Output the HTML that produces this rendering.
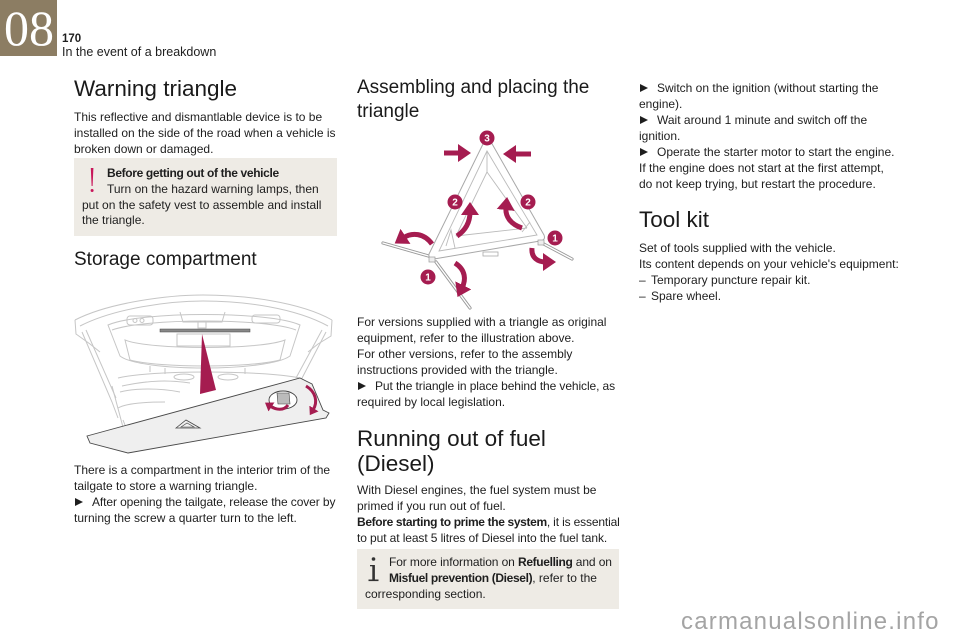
<!DOCTYPE html>
<html><head><meta charset="utf-8">
<style>
html,body{margin:0;padding:0;background:#fff;}
#p{position:relative;width:960px;height:640px;overflow:hidden;background:#fff;font-family:"Liberation Sans",sans-serif;color:#1e1e1e;}
.l{position:absolute;white-space:nowrap;font-size:12px;line-height:16px;}
.l b{letter-spacing:-0.35px;}
.h1{position:absolute;white-space:nowrap;font-size:22.5px;line-height:28px;color:#1a1a1a;}
.h2{position:absolute;white-space:nowrap;font-size:19px;line-height:24px;color:#1a1a1a;}
.bu{position:absolute;width:0;height:0;border-left:8px solid #1e1e1e;border-top:4px solid transparent;border-bottom:4px solid transparent;}
svg{position:absolute;left:0;top:0;}
</style></head><body>
<div id="p">
<svg width="960" height="640" viewBox="0 0 960 640">
<defs>
<marker id="ah" markerWidth="3" markerHeight="3.6" refX="0.6" refY="1.8" orient="auto" markerUnits="strokeWidth"><path d="M0,0 L2.6,1.8 L0,3.6 Z" fill="#a51c50"/></marker>
</defs>
<rect x="0" y="0" width="57" height="56" fill="#8c7d63"/>
<rect x="74" y="158" width="263" height="78" fill="#eeebe5"/>
<path d="M90.8,168 L93.4,168 L92.6,186 L91.6,186 Z" fill="#c8175a"/>
<circle cx="92.1" cy="190.5" r="1.5" fill="#c8175a"/>
<rect x="357" y="549" width="262" height="60" fill="#eeebe5"/>
<circle cx="373.5" cy="559" r="1.8" fill="#333"/>
<rect x="372.3" y="565" width="2.6" height="15" fill="#333"/>
<rect x="368.5" y="579.5" width="10" height="1.6" fill="#333"/>
<rect x="370" y="565" width="4" height="1.3" fill="#333"/>

<g fill="none" stroke="#c6c6c6" stroke-width="1">
<path d="M75,320 C110,302 170,295 203,295 C245,295 300,302 332,320"/>
<path d="M80,326 C115,308 170,301 203,301 C245,301 295,308 328,326"/>
<path d="M75,320 L76,334 L90,344 L100,352"/>
<path d="M332,320 L331,336 L318,344 L308,352"/>
<path d="M82,332 L112,402 L118,418"/>
<path d="M86,330 L116,398"/>
<path d="M326,332 L300,382"/>
<path d="M322,330 L296,378"/>
<path d="M108,325 C140,311 270,311 300,325 L290,356 C268,372 140,372 120,356 Z"/>
<path d="M112,330 C145,318 265,318 296,330"/>
<path d="M125,340 C150,350 260,350 285,340 L280,360 C250,368 160,368 130,360 Z"/>
<rect x="127" y="316" width="26" height="9" rx="3"/>
<rect x="252" y="315" width="28" height="8" rx="3"/>
<circle cx="135" cy="320.5" r="2"/><circle cx="142" cy="320.5" r="2"/>
<path d="M180,312 L183,322 L222,322 L225,312"/>
<path d="M198,322 L198,328 L206,328 L206,322"/>
<rect x="177" y="334" width="53" height="12"/>
<path d="M118,378 C150,370 260,370 300,378"/>
<path d="M122,386 C150,380 170,380 190,383"/>
<path d="M112,386 L128,446"/>
<path d="M120,392 C135,388 160,388 180,392"/>
<path d="M118,408 C125,404 140,402 165,402"/>
<path d="M123,420 L135,450"/>
<ellipse cx="184" cy="377" rx="10" ry="3"/>
<ellipse cx="228" cy="377" rx="10" ry="3"/>
<path d="M165,374 L165,368 M245,374 L245,368 M150,372 L150,366"/>
</g>
<rect x="160" y="329" width="90" height="3" fill="#888" stroke="#444" stroke-width="0.5"/>
<path d="M87,436 L300,378 L312,384 L323,410 L329,413 L326,418 L128,453 L90,443 Z" fill="#efefef" stroke="#4a4a4a" stroke-width="0.9"/>
<path d="M202,334 L200,394 L216,390 Z" fill="#a51c50"/>
<path d="M176,428 L186,420 L200,428 Z" fill="none" stroke="#444" stroke-width="0.8"/>
<path d="M181,427 L187,423 L194,427 Z" fill="none" stroke="#444" stroke-width="0.6"/>
<ellipse cx="283" cy="400" rx="14" ry="9" fill="#fff" stroke="#444" stroke-width="0.9"/>
<path d="M277,393 L289,393 L290,404 L278,404 Z" fill="#bbb" stroke="#444" stroke-width="0.6"/>
<path d="M288,405 C284,411 276,410 270,406" fill="none" stroke="#a51c50" stroke-width="3" marker-end="url(#ah)"/>
<path d="M306,386 C316,392 318,402 313,410" fill="none" stroke="#a51c50" stroke-width="3" marker-end="url(#ah)"/>

<g fill="none" stroke-linecap="round">
<path d="M432,257 L383,243" stroke="#999" stroke-width="3.2"/>
<path d="M432,257 L383,243" stroke="#fff" stroke-width="1.4"/>
<path d="M436,262 L470,308" stroke="#999" stroke-width="3.2"/>
<path d="M436,262 L470,308" stroke="#fff" stroke-width="1.4"/>
<path d="M540,242 L572,259" stroke="#999" stroke-width="3.2"/>
<path d="M540,242 L572,259" stroke="#fff" stroke-width="1.4"/>
<path d="M497,205 L510,213" stroke="#999" stroke-width="3.2"/>
<path d="M497,205 L510,213" stroke="#fff" stroke-width="1.4"/>
</g>
<path d="M484,142 L429,254 Q428,259 434,259 L540,241 Q546,240 544,235 L491,142 Z" fill="#fff" stroke="#a8a8a8" stroke-width="1"/>
<path d="M487,151 L439,251 L537,235 Z" fill="none" stroke="#bbb" stroke-width="0.9"/>
<path d="M487,151 L487,172 L456,236 M487,172 L527,228 M456,236 L527,228 M446,246 L451,230 L455,248 M522,232 L530,222" fill="none" stroke="#bbb" stroke-width="0.9"/>
<rect x="483" y="252" width="15" height="4" fill="#fff" stroke="#aaa" stroke-width="0.8"/>
<rect x="429" y="257" width="6" height="5" fill="#eee" stroke="#999" stroke-width="0.7"/>
<rect x="538" y="240" width="6" height="5" fill="#eee" stroke="#999" stroke-width="0.7"/>
<g fill="none" stroke="#a51c50" stroke-width="5">
<path d="M444,153 L461,153" marker-end="url(#ah)"/>
<path d="M531,154 L513,154" marker-end="url(#ah)"/>
<path d="M432,244 C424,233 412,232 403,238" marker-end="url(#ah)"/>
<path d="M457,236 C466,230 470,222 470,212" marker-end="url(#ah)"/>
<path d="M522,228 C510,224 505,216 506,207" marker-end="url(#ah)"/>
<path d="M455,263 C466,270 466,280 462,288" marker-end="url(#ah)"/>
<path d="M532,248 C531,258 538,262 546,262" marker-end="url(#ah)"/>
</g>
<g font-family="Liberation Sans, sans-serif" font-weight="bold" font-size="10" fill="#fff" text-anchor="middle">
<circle cx="487" cy="138" r="7.5" fill="#a51c50"/><text x="487" y="141.6">3</text>
<circle cx="455" cy="202" r="7.5" fill="#a51c50"/><text x="455" y="205.6">2</text>
<circle cx="528" cy="202" r="7.5" fill="#a51c50"/><text x="528" y="205.6">2</text>
<circle cx="555" cy="238" r="7.5" fill="#a51c50"/><text x="555" y="241.6">1</text>
<circle cx="428" cy="277" r="7.5" fill="#a51c50"/><text x="428" y="280.6">1</text>
</g>
</svg>

<div style="position:absolute;left:4px;top:3px;font-family:'Liberation Serif',serif;font-size:50px;line-height:50px;color:#fff;white-space:nowrap;">08</div>
<div class="l" style="left:62px;top:31px;font-weight:bold;font-size:11.5px;">170</div>
<div class="l" style="left:62px;top:44px;font-size:12.5px;">In the event of a breakdown</div>

<div class="h1" style="left:74px;top:75px;">Warning triangle</div>
<div class="l" style="left:74px;top:109px;">This reflective and dismantlable device is to be</div>
<div class="l" style="left:74px;top:125px;">installed on the side of the road when a vehicle is</div>
<div class="l" style="left:74px;top:141px;">broken down or damaged.</div>
<div class="l" style="left:107px;top:165px;"><b>Before getting out of the vehicle</b></div>
<div class="l" style="left:107px;top:181px;">Turn on the hazard warning lamps, then</div>
<div class="l" style="left:82px;top:197px;">put on the safety vest to assemble and install</div>
<div class="l" style="left:82px;top:212px;">the triangle.</div>
<div class="h2" style="left:74px;top:248px;">Storage compartment</div>
<div class="l" style="left:74px;top:462px;">There is a compartment in the interior trim of the</div>
<div class="l" style="left:74px;top:478px;">tailgate to store a warning triangle.</div>
<div class="bu" style="left:75px;top:498px;"></div>
<div class="l" style="left:92px;top:494px;letter-spacing:-0.1px;">After opening the tailgate, release the cover by</div>
<div class="l" style="left:74px;top:510px;">turning the screw a quarter turn to the left.</div>

<div class="h2" style="left:357px;top:76px;">Assembling and placing the</div>
<div class="h2" style="left:357px;top:100px;">triangle</div>
<div class="l" style="left:357px;top:314px;">For versions supplied with a triangle as original</div>
<div class="l" style="left:357px;top:330px;">equipment, refer to the illustration above.</div>
<div class="l" style="left:357px;top:346px;">For other versions, refer to the assembly</div>
<div class="l" style="left:357px;top:362px;">instructions provided with the triangle.</div>
<div class="bu" style="left:358px;top:382px;"></div>
<div class="l" style="left:375px;top:378px;letter-spacing:-0.1px;">Put the triangle in place behind the vehicle, as</div>
<div class="l" style="left:357px;top:394px;">required by local legislation.</div>
<div class="h1" style="left:357px;top:425px;">Running out of fuel</div>
<div class="h1" style="left:357px;top:450px;">(Diesel)</div>
<div class="l" style="left:357px;top:482px;">With Diesel engines, the fuel system must be</div>
<div class="l" style="left:357px;top:498px;">primed if you run out of fuel.</div>
<div class="l" style="left:357px;top:514px;letter-spacing:-0.15px;"><b>Before starting to prime the system</b>, it is essential</div>
<div class="l" style="left:357px;top:530px;letter-spacing:-0.1px;">to put at least 5 litres of Diesel into the fuel tank.</div>
<div class="l" style="left:389px;top:554px;letter-spacing:-0.1px;">For more information on <b>Refuelling</b> and on</div>
<div class="l" style="left:389px;top:570px;"><b>Misfuel prevention (Diesel)</b>, refer to the</div>
<div class="l" style="left:365px;top:586px;">corresponding section.</div>

<div class="bu" style="left:640px;top:84px;"></div>
<div class="l" style="left:657px;top:80px;">Switch on the ignition (without starting the</div>
<div class="l" style="left:639px;top:96px;">engine).</div>
<div class="bu" style="left:640px;top:116px;"></div>
<div class="l" style="left:657px;top:112px;">Wait around 1 minute and switch off the</div>
<div class="l" style="left:639px;top:128px;">ignition.</div>
<div class="bu" style="left:640px;top:148px;"></div>
<div class="l" style="left:657px;top:144px;">Operate the starter motor to start the engine.</div>
<div class="l" style="left:639px;top:160px;">If the engine does not start at the first attempt,</div>
<div class="l" style="left:639px;top:176px;">do not keep trying, but restart the procedure.</div>
<div class="h1" style="left:639px;top:206px;">Tool kit</div>
<div class="l" style="left:639px;top:240px;">Set of tools supplied with the vehicle.</div>
<div class="l" style="left:639px;top:256px;">Its content depends on your vehicle's equipment:</div>
<div class="l" style="left:639px;top:272px;">–</div>
<div class="l" style="left:651px;top:272px;">Temporary puncture repair kit.</div>
<div class="l" style="left:639px;top:288px;">–</div>
<div class="l" style="left:651px;top:288px;">Spare wheel.</div>

<div style="position:absolute;left:681px;top:608px;font-size:24px;line-height:28px;color:#a4a4a4;letter-spacing:1.2px;white-space:nowrap;">carmanualsonline.info</div>
</div>
</body></html>
